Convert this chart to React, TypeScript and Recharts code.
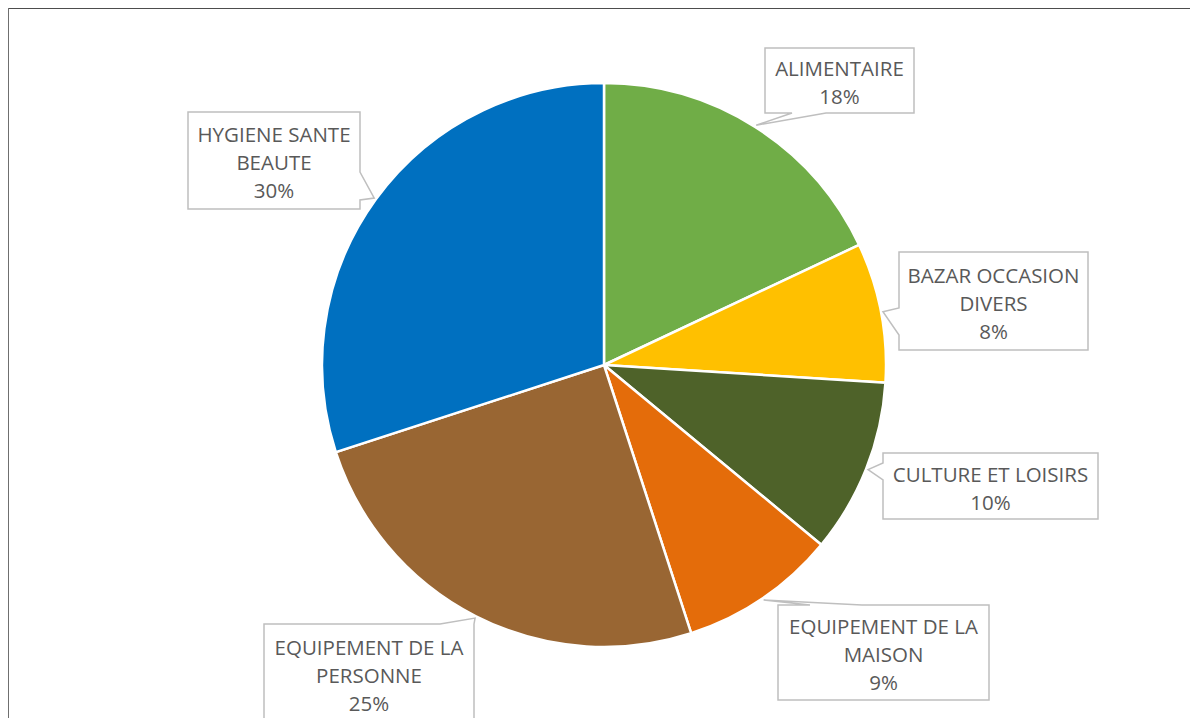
import { PieChart, Pie, Cell } from "recharts";

const categories = [
  "ALIMENTAIRE",
  "BAZAR OCCASION\nDIVERS",
  "CULTURE ET LOISIRS",
  "EQUIPEMENT DE LA\nMAISON",
  "EQUIPEMENT DE LA\nPERSONNE",
  "HYGIENE SANTE\nBEAUTE",
];
const shares = [18, 8, 10, 9, 25, 30];
const colors = ["#70AD47", "#FFC000", "#4E6229", "#E46C0A", "#996633", "#0070C0"];

// callout boxes: box rect + which side the pointer leaves from and where
const callouts = [
  { x: 765, y: 48, w: 149, h: 65, side: "bottom", b1: 792, b2: 826 },
  { x: 899, y: 252, w: 189, h: 98, side: "left", b1: 308, b2: 335 },
  { x: 883, y: 453, w: 215, h: 66, side: "left", b1: 463, b2: 480 },
  { x: 778, y: 605, w: 211, h: 95, side: "top", b1: 810, b2: 862 },
  { x: 264, y: 624, w: 210, h: 98, side: "top", b1: 440, b2: 474 },
  { x: 188, y: 112, w: 172, h: 97, side: "right", b1: 172, b2: 200 },
];

const data = categories.map((name, i) => ({ name, value: shares[i] }));
const total = shares.reduce((a, b) => a + b, 0);
const RAD = Math.PI / 180;

const calloutPath = (c: any, tx: number, ty: number) => {
  const { x, y, w, h, side, b1, b2 } = c;
  const r = x + w;
  const b = y + h;
  if (side === "bottom")
    return `M${x},${y}L${r},${y}L${r},${b}L${b2},${b}L${tx},${ty}L${b1},${b}L${x},${b}Z`;
  if (side === "top")
    return `M${x},${y}L${b1},${y}L${tx},${ty}L${b2},${y}L${r},${y}L${r},${b}L${x},${b}Z`;
  if (side === "right")
    return `M${x},${y}L${r},${y}L${r},${b1}L${tx},${ty}L${r},${b2}L${r},${b}L${x},${b}Z`;
  return `M${x},${y}L${r},${y}L${r},${b}L${x},${b}L${x},${b2}L${tx},${ty}L${x},${b1}Z`;
};

const renderLabel = (props: any) => {
  const { cx, cy, midAngle, outerRadius, index, value } = props;
  const c = callouts[index];
  const tx = cx + (outerRadius + 2) * Math.cos(-midAngle * RAD);
  const ty = cy + (outerRadius + 2) * Math.sin(-midAngle * RAD);
  const lines = [...categories[index].split("\n"), `${Math.round((value / total) * 100)}%`];
  const lh = 28;
  const mid = c.y + c.h / 2 + 1.5;
  const first = mid - ((lines.length - 1) * lh) / 2;
  return (
    <g key={`lbl-${index}`}>
      <path d={calloutPath(c, tx, ty)} fill="#ffffff" stroke="#bfbfbf" strokeWidth={1.5} />
      <text
        x={c.x + c.w / 2}
        textAnchor="middle"
        fill="#595959"
        fontSize={20.5}
        fontFamily="'Open Sans', sans-serif"
      >
        {lines.map((l, k) => (
          <tspan key={k} x={c.x + c.w / 2} y={first + k * lh} dominantBaseline="central">
            {l}
          </tspan>
        ))}
      </text>
    </g>
  );
};

export default function App() {
  return (
    <div
      style={{
        position: "relative",
        width: 1198,
        height: 718,
        marginLeft: -8,
        marginTop: -8,
        background: "#fff",
      }}
    >
      {/* chart frame: only top and left edges are inside the crop */}
      <svg width={1198} height={718} style={{ position: "absolute", left: 0, top: 0 }}>
        <rect x={6} y={6} width={1192} height={3} fill="#4d4d4d" />
        <rect x={6} y={6} width={3} height={712} fill="#6f6f6f" />
      </svg>
      <div style={{ position: "absolute", left: 0, top: 0 }}>
        <PieChart width={1198} height={718} margin={{ top: 0, right: 0, bottom: 0, left: 0 }}>
          <Pie
            data={data}
            dataKey="value"
            nameKey="name"
            cx={604}
            cy={365}
            outerRadius={282}
            startAngle={90}
            endAngle={-270}
            stroke="#ffffff"
            strokeWidth={2.5}
            label={renderLabel}
            labelLine={false}
            isAnimationActive={false}
          >
            {data.map((d, i) => (
              <Cell key={d.name} fill={colors[i]} />
            ))}
          </Pie>
        </PieChart>
      </div>
    </div>
  );
}
